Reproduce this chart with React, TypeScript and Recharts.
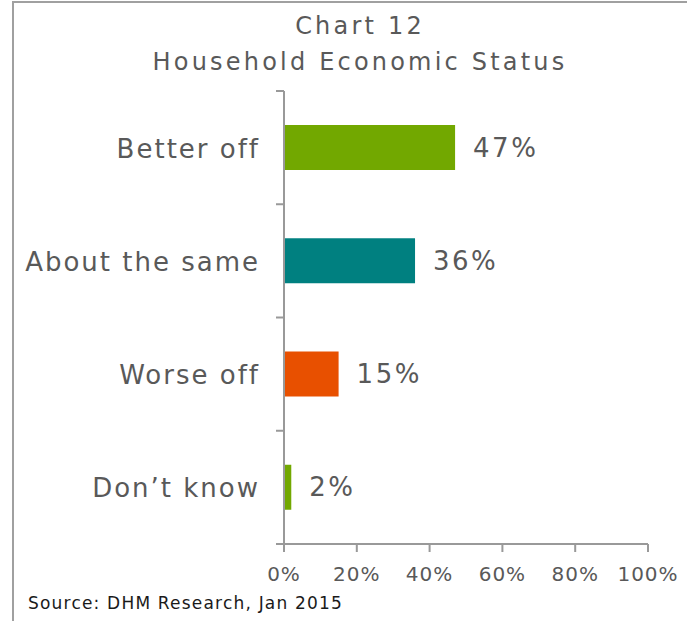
import { Bar, BarChart, Cell, LabelList, XAxis, YAxis } from "recharts";

const categories = ["Better off", "About the same", "Worse off", "Don\u2019t know"];
const shares = [47, 36, 15, 2];
const barColors = ["#72a800", "#008080", "#e85000", "#72a800"];
const xTicks = [0, 20, 40, 60, 80, 100];

const data = categories.map((name, i) => ({ name, value: shares[i] }));

const W = 687;
const H = 621;
const MARGIN = { top: 91, right: 39, bottom: 35, left: 84 };
const X_AXIS_H = 42;
const Y_AXIS_W = 200;
const TEXT = "#595959";
const AXIS = "#999999";
const FONT = "'DejaVu Sans', sans-serif";

const plotH = H - MARGIN.top - MARGIN.bottom - X_AXIS_H;
const band = plotH / categories.length;

function CategoryTick(props: any) {
  const { x, y, payload, index } = props;
  const axisX = x + 26;
  const top = y - band / 2;
  return (
    <g>
      <line x1={axisX - 8} x2={axisX} y1={top} y2={top} stroke={AXIS} strokeWidth={2} />
      <text
        x={x + 2}
        y={y + 1}
        textAnchor="end"
        dominantBaseline="central"
        fontSize={26}
        fill={TEXT}
        fontFamily={FONT}
        letterSpacing={2}
      >
        {payload.value}
      </text>
      {index === categories.length - 1 && (
        <line x1={axisX - 8} x2={axisX} y1={y + band / 2} y2={y + band / 2} stroke={AXIS} strokeWidth={2} />
      )}
    </g>
  );
}

export default function App() {
  return (
    <div style={{ position: "absolute", left: 0, top: 0, width: W, height: H, background: "#fff" }}>
      <div
        style={{
          position: "absolute",
          left: 12,
          top: 1,
          width: W + 20,
          height: H + 20,
          borderLeft: "2px solid #a0a0a0",
          borderTop: "2px solid #a0a0a0",
        }}
      />
      <div
        style={{
          position: "absolute",
          left: 110,
          width: 500,
          top: 8,
          textAlign: "center",
          fontFamily: FONT,
          fontSize: 24,
          lineHeight: "36px",
          color: TEXT,
          letterSpacing: 3.2,
        }}
      >
        Chart 12
        <br />
        Household Economic Status
      </div>
      <BarChart
        width={W}
        height={H}
        data={data}
        layout="vertical"
        margin={MARGIN}
        barCategoryGap="30%"
        style={{ position: "absolute", left: 0, top: 0 }}
      >
        <XAxis
          type="number"
          domain={[0, 100]}
          ticks={xTicks}
          tickFormatter={(v) => `${v}%`}
          height={X_AXIS_H}
          stroke={AXIS}
          strokeWidth={2}
          tickSize={8}
          tickMargin={15}
          tick={{ fill: TEXT, fontSize: 20, fontFamily: FONT, letterSpacing: 1 }}
          interval={0}
        />
        <YAxis
          type="category"
          dataKey="name"
          width={Y_AXIS_W}
          stroke={AXIS}
          strokeWidth={2}
          tickLine={false}
          tickSize={8}
          tickMargin={18}
          tick={<CategoryTick />}
          interval={0}
        />
        <Bar dataKey="value" barSize={45} isAnimationActive={false}>
          {data.map((d, i) => (
            <Cell key={d.name} fill={barColors[i]} />
          ))}
          <LabelList
            dataKey="value"
            position="right"
            offset={18}
            formatter={(v: any) => `${v}%`}
            style={{ fill: TEXT, fontSize: 26, fontFamily: FONT, letterSpacing: 2.5 }}
          />
        </Bar>
      </BarChart>
      <div
        style={{
          position: "absolute",
          left: 28,
          top: 593,
          fontFamily: FONT,
          fontSize: 17,
          color: "#1a1a1a",
          whiteSpace: "nowrap",
          letterSpacing: 1.2,
        }}
      >
        Source: DHM Research, Jan 2015
      </div>
    </div>
  );
}
